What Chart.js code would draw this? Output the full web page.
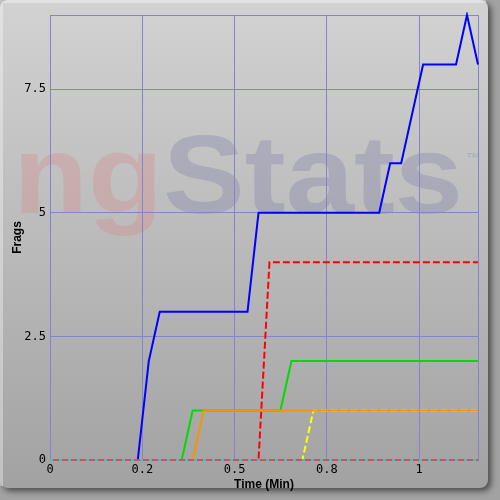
<!DOCTYPE html>
<html>
<head>
<meta charset="utf-8">
<script src="https://cdn.jsdelivr.net/npm/chart.js@4.4.0/dist/chart.umd.min.js"></script>
<style>
  html, body { margin: 0; padding: 0; background: #a0a0a0; }
  #wrap { width: 500px; height: 500px; }
</style>
</head>
<body>
<div id="wrap"><canvas id="fragChart" width="500" height="500"></canvas></div>
<script>
// time axis (minutes)
const xMax = 1.1595;
const xTickValues = [0, 0.25, 0.5, 0.75, 1];
const xTickLabels = ["0", "0.2", "0.5", "0.8", "1"];
const yTickMax = 9;

// frags over time, one pair of arrays per player
const blueTimes = [0, 0.2378, 0.2676, 0.2973, 0.5351, 0.5649, 0.8919, 0.9216, 0.9514, 1.0108, 1.1, 1.1297, 1.1595];
const blueFrags = [0, 0, 2, 3, 3, 5, 5, 6, 6, 8, 8, 9, 8];

const redTimes = [0, 0.5649, 0.5946, 1.1595];
const redFrags = [0, 0, 4, 4];

const greenTimes = [0, 0.3568, 0.3865, 0.6243, 0.6541, 1.1595];
const greenFrags = [0, 0, 1, 1, 2, 2];

const orangeTimes = [0, 0.3865, 0.4162, 1.1595];
const orangeFrags = [0, 0, 1, 1];

const yellowTimes = [0, 0.6838, 0.7135, 1.1595];
const yellowFrags = [0, 0, 1, 1];

const zeroTimes = [0, 1.1595];
const zeroFrags = [0, 0];

function points(times, values) {
  return times.map((t, i) => ({ x: t, y: values[i] }));
}

const gridColor = "rgb(132,132,205)";

// panel background + watermark, drawn under the grid
const backdrop = {
  id: "backdrop",
  beforeDraw(chart) {
    const ctx = chart.ctx;
    ctx.save();
    ctx.fillStyle = "#a2a2a2";
    ctx.fillRect(0, 0, 500, 500);

    ctx.shadowColor = "rgba(0,0,0,0.55)";
    ctx.shadowBlur = 6;
    ctx.shadowOffsetX = 3;
    ctx.shadowOffsetY = 3;
    const g = ctx.createLinearGradient(0, 0, 0, 488);
    g.addColorStop(0, "#d2d2d2");
    g.addColorStop(1, "#a2a2a2");
    ctx.fillStyle = g;
    ctx.beginPath();
    ctx.roundRect(0, 0, 488, 488, 8);
    ctx.fill();
    ctx.shadowColor = "transparent";

    // light bevel top/left
    ctx.strokeStyle = "rgba(255,255,255,0.35)";
    ctx.lineWidth = 3;
    ctx.beginPath();
    ctx.moveTo(1.5, 486);
    ctx.lineTo(1.5, 1.5);
    ctx.lineTo(486, 1.5);
    ctx.stroke();

    // watermark
    ctx.font = "bold 112px 'Liberation Sans', Arial, sans-serif";
    ctx.textBaseline = "alphabetic";
    const wNg = ctx.measureText("ng").width;
    const wAll = ctx.measureText("ngStats").width;
    const sx = 450 / wAll;
    ctx.translate(13, 213);
    ctx.scale(sx, 1);
    ctx.fillStyle = "rgba(225,120,125,0.26)";
    ctx.fillText("ng", 0, 0);
    ctx.fillStyle = "rgba(110,110,165,0.28)";
    ctx.fillText("Stats", wNg, 0);
    ctx.setTransform(1, 0, 0, 1, 0, 0);
    ctx.font = "bold 15px 'Liberation Sans', Arial, sans-serif";
    ctx.fillStyle = "rgba(150,150,175,0.45)";
    ctx.fillText("\u2122", 466, 163);
    ctx.restore();
  },
  beforeDatasetsDraw(chart) {
    const a = chart.chartArea;
    const ctx = chart.ctx;
    ctx.save();
    ctx.strokeStyle = gridColor;
    ctx.lineWidth = 1;
    ctx.strokeRect(a.left + 0.5, a.top + 0.5, a.right - a.left, a.bottom - a.top);
    ctx.restore();
  }
};

const lineBase = { pointRadius: 0, tension: 0, fill: false, borderWidth: 2, clip: 3 };

new Chart(document.getElementById("fragChart"), {
  type: "line",
  data: {
    datasets: [
      Object.assign({}, lineBase, { label: "cyan", data: points(zeroTimes, zeroFrags), borderColor: "rgb(40,205,195)", borderDash: [3, 6] }),
      Object.assign({}, lineBase, { label: "pink", data: points(zeroTimes, zeroFrags), borderColor: "rgb(212,78,98)" }),
      Object.assign({}, lineBase, { label: "orange", data: points(orangeTimes, orangeFrags), borderColor: "rgb(245,150,0)" }),
      Object.assign({}, lineBase, { label: "yellow", data: points(yellowTimes, yellowFrags), borderColor: "rgb(255,255,0)", borderDash: [7, 3] }),
      Object.assign({}, lineBase, { label: "green", data: points(greenTimes, greenFrags), borderColor: "rgb(0,220,0)" }),
      Object.assign({}, lineBase, { label: "red", data: points(redTimes, redFrags), borderColor: "rgb(255,0,0)", borderDash: [7, 3] }),
      Object.assign({}, lineBase, { label: "blue", data: points(blueTimes, blueFrags), borderColor: "rgb(0,0,255)" })
    ]
  },
  options: {
    responsive: false,
    animation: false,
    events: [],
    layout: { padding: { top: 15, right: 22, left: 0, bottom: 0 } },
    plugins: { legend: { display: false }, tooltip: { enabled: false } },
    scales: {
      x: {
        type: "linear",
        min: 0,
        max: xMax,
        afterFit(scale) { scale.height = 40; },
        afterBuildTicks(scale) { scale.ticks = xTickValues.map(v => ({ value: v })); },
        grid: { color: gridColor, drawTicks: false },
        border: { display: false },
        ticks: {
          padding: 3,
          color: "#000",
          font: { family: "'DejaVu Sans Mono', monospace", size: 12 },
          callback: (v) => {
            const i = xTickValues.indexOf(v);
            return i >= 0 ? xTickLabels[i] : "";
          }
        },
        title: {
          display: true,
          text: "Time (Min)",
          color: "#000",
          font: { family: "'Liberation Sans', Arial, sans-serif", size: 12, weight: "bold" },
          padding: { top: 0, bottom: 8 }
        }
      },
      y: {
        min: 0,
        max: yTickMax,
        afterFit(scale) { scale.width = 50; },
        grid: { color: gridColor, drawTicks: false },
        border: { display: false },
        ticks: {
          stepSize: 2.5,
          includeBounds: false,
          padding: 4,
          color: "#000",
          font: { family: "'DejaVu Sans Mono', monospace", size: 12 }
        },
        title: {
          display: true,
          text: "Frags",
          color: "#000",
          font: { family: "'Liberation Sans', Arial, sans-serif", size: 12, weight: "bold" },
          padding: { top: 10, bottom: 0 }
        }
      }
    }
  },
  plugins: [backdrop]
});
</script>
</body>
</html>
